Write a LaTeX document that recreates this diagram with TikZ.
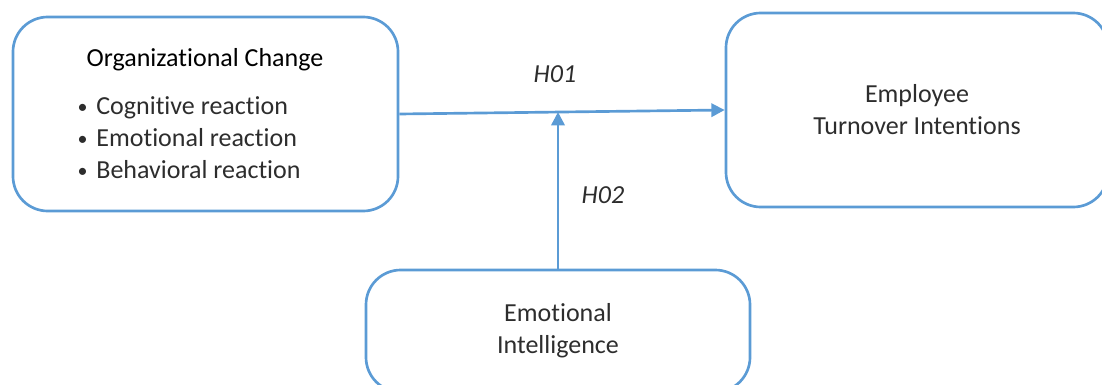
\documentclass[tikz,border=0pt]{standalone}
\usepackage{fontspec}
\setmainfont{Carlito}[Ligatures=NoCommon, RawFeature=-calt]
\usepackage{xcolor}
\usetikzlibrary{positioning,calc,arrows.meta}
\definecolor{boxblue}{RGB}{91,155,213}
\definecolor{textgray}{RGB}{45,45,45}
\newcommand{\bodysize}{\fontsize{19.5}{24}\selectfont}
\newcommand{\reactbullet}{\makebox[14pt][l]{\raisebox{1pt}{\fontsize{15}{24}\selectfont\textbullet}}}
\tikzset{
  model/.style={draw=boxblue, line width=2pt, rounded corners=26pt, inner sep=0pt, align=center, text=textgray},
  link/.style={draw=boxblue, line width=2pt, -{Triangle[length=10pt,width=10pt]}},
  hyp/.style={font=\bodysize\itshape, text=textgray},
}

\begin{document}
\begin{tikzpicture}[x=0.75pt,y=-0.75pt, every node/.style={font=\bodysize}]
    \clip (0,0) rectangle (1102,385);
    % the three constructs
    \node[model, minimum width=288.75pt, minimum height=145.5pt] (orgchange) at (205.5,114) {};
    \node[model, minimum width=286.5pt, minimum height=145.5pt] (turnover) at (917,110) {Employee\\Turnover Intentions};
    \node[model, minimum width=288pt, minimum height=91.5pt] (emointel) at (558,331) {Emotional\\Intelligence};
    % text of the left box
    \node (orgtitle) at (205,60) {Organizational Change};
    \node[anchor=west, align=left, text=textgray] (reactions) at (73,138)
        {\reactbullet Cognitive reaction\\\reactbullet Emotional reaction\\\reactbullet Behavioral reaction};
    % hypotheses
    \draw[link] (orgchange.east) -- (turnover.west);
    \coordinate (meet) at ($(orgchange.east)!0.488!(turnover.west)$);
    \draw[link] (emointel.north) -- (emointel.north |- meet);
    \node[hyp] (hone) at (555,74) {H01};
    \node[hyp] (htwo) at (603,195) {H02};
\end{tikzpicture}
\end{document}
